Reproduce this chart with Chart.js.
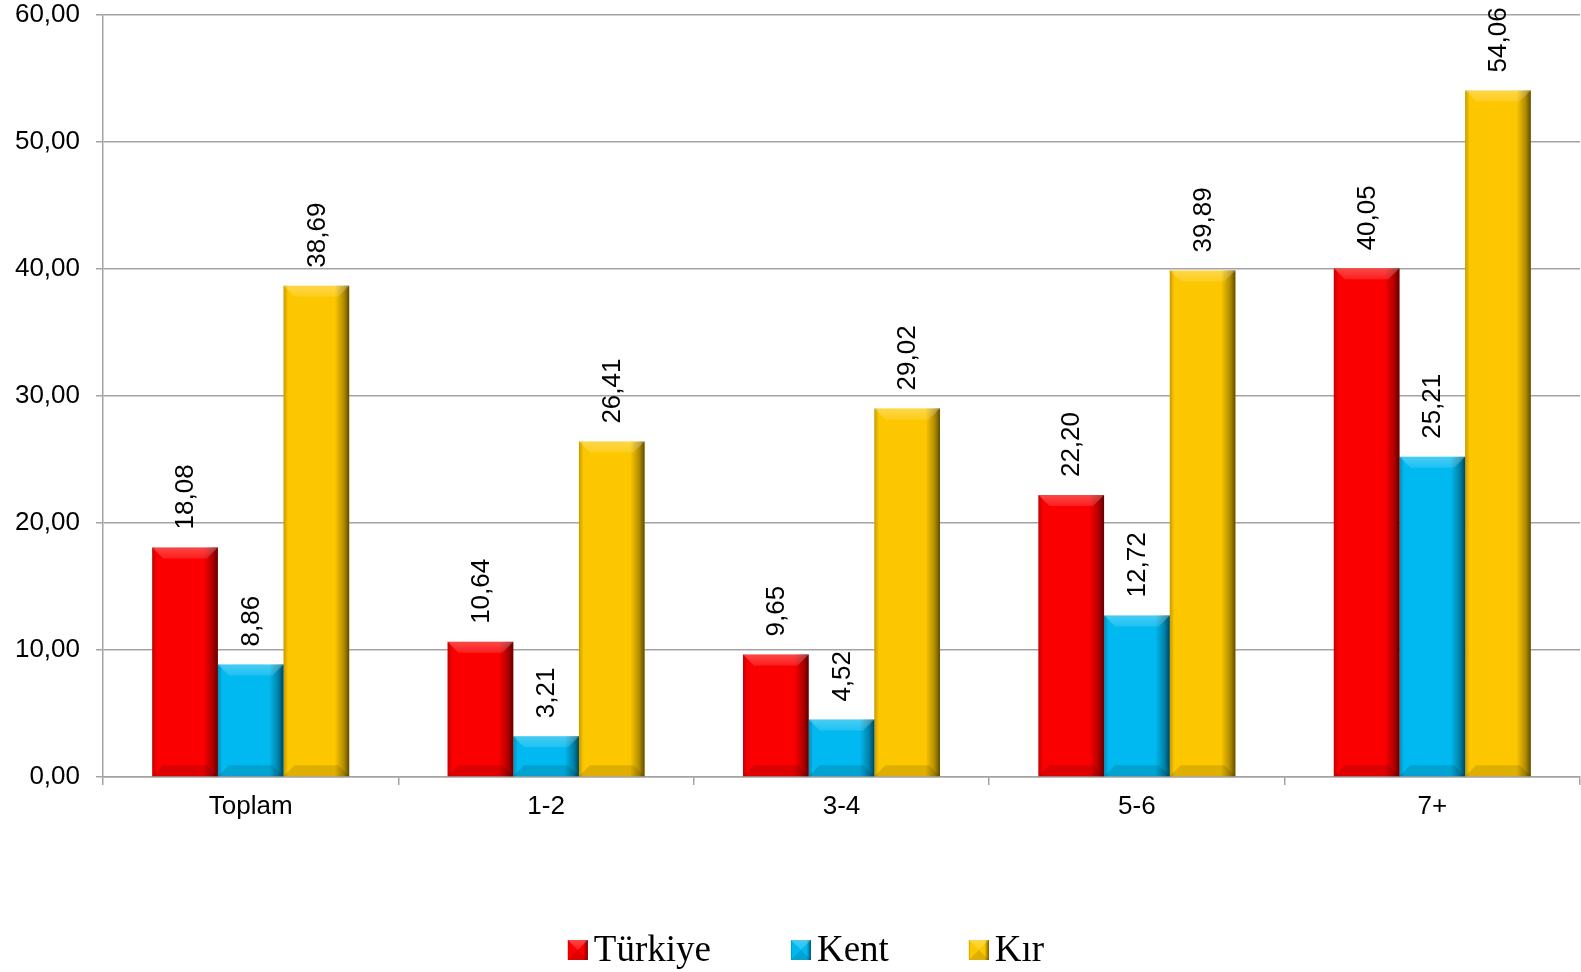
<!DOCTYPE html>
<html>
<head>
<meta charset="utf-8">
<script src="https://cdn.jsdelivr.net/npm/chart.js@4/dist/chart.umd.min.js"></script>
<style>
  body { margin: 0; background: #fff; }
  canvas { display: block; }
</style>
</head>
<body>
<canvas id="chart" width="1581" height="972"></canvas>
<script>
const categories = ["Toplam", "1-2", "3-4", "5-6", "7+"];
const turkiye = [18.08, 10.64, 9.65, 22.20, 40.05];
const kent = [8.86, 3.21, 4.52, 12.72, 25.21];
const kir = [38.69, 26.41, 29.02, 39.89, 54.06];
const seriesNames = ["Türkiye", "Kent", "Kır"];

const COLOR = {
  red: "#fb0000",
  blue: "#00b9f0",
  yellow: "#fdc700",
  grid: "#a3a3a3",
};
const SANS = "'Liberation Sans', Arial, sans-serif";
const SERIF = "'Liberation Serif', 'Times New Roman', serif";

const fmt = (v) => v.toFixed(2).replace(".", ",");

// paints the bevel look on top of a flat rect
function bevel(ctx, left, top, w, h) {
  const right = left + w;
  const bottom = top + h;
  const b = Math.min(11, h / 2, w / 2);

  const g = ctx.createLinearGradient(left, 0, right, 0);
  g.addColorStop(0, "rgba(0,0,0,0.22)");
  g.addColorStop(0.07, "rgba(0,0,0,0)");
  g.addColorStop(0.78, "rgba(0,0,0,0)");
  g.addColorStop(0.92, "rgba(0,0,0,0.3)");
  g.addColorStop(1, "rgba(0,0,0,0.62)");
  ctx.fillStyle = g;
  ctx.fillRect(left, top, w, h);

  const tg = ctx.createLinearGradient(0, top, 0, top + b);
  tg.addColorStop(0, "rgba(255,255,255,0.28)");
  tg.addColorStop(1, "rgba(255,255,255,0.12)");
  ctx.fillStyle = tg;
  ctx.beginPath();
  ctx.moveTo(left, top);
  ctx.lineTo(right, top);
  ctx.lineTo(right - b, top + b);
  ctx.lineTo(left + b, top + b);
  ctx.closePath();
  ctx.fill();

  ctx.fillStyle = "rgba(0,0,0,0.12)";
  ctx.beginPath();
  ctx.moveTo(left, bottom);
  ctx.lineTo(right, bottom);
  ctx.lineTo(right - b, bottom - b);
  ctx.lineTo(left + b, bottom - b);
  ctx.closePath();
  ctx.fill();
}

const barLook = {
  id: "barLook",
  afterDatasetsDraw(chart) {
    const ctx = chart.ctx;
    ctx.save();
    chart.data.datasets.forEach((ds, i) => {
      const meta = chart.getDatasetMeta(i);
      meta.data.forEach((bar, j) => {
        const left = bar.x - bar.width / 2;
        const top = Math.min(bar.y, bar.base);
        const h = Math.abs(bar.base - bar.y);
        bevel(ctx, left, top, bar.width, h);

        // rotated value label above the bar
        ctx.save();
        ctx.translate(bar.x, top - 18);
        ctx.rotate(-Math.PI / 2);
        ctx.fillStyle = "#000";
        ctx.font = "26px " + SANS;
        ctx.textAlign = "left";
        ctx.textBaseline = "middle";
        ctx.fillText(fmt(ds.data[j]), 0, 1);
        ctx.restore();
      });
    });
    ctx.restore();
  },
};

const bottomLegend = {
  id: "bottomLegend",
  afterDraw(chart) {
    const ctx = chart.ctx;
    const box = 20;
    const gap = 6;
    const spacing = 80;
    const y = 950;
    ctx.save();
    ctx.font = "37px " + SERIF;
    const items = chart.data.datasets.map((ds) => ({
      label: ds.label,
      color: ds.backgroundColor,
      w: box + gap + ctx.measureText(ds.label).width,
    }));
    const total =
      items.reduce((s, it) => s + it.w, 0) + spacing * (items.length - 1);
    let x = 806 - total / 2;
    items.forEach((it) => {
      ctx.fillStyle = it.color;
      ctx.fillRect(x, y - box / 2, box, box);
      bevel(ctx, x, y - box / 2, box, box);
      ctx.fillStyle = "#000";
      ctx.textAlign = "left";
      ctx.textBaseline = "alphabetic";
      ctx.fillText(it.label, x + box + gap, y + 11);
      x += it.w + spacing;
    });
    ctx.restore();
  },
};

const makeSet = (label, data, color) => ({
  label,
  data,
  backgroundColor: color,
  borderWidth: 0,
  categoryPercentage: 0.667,
  barPercentage: 1,
});

new Chart(document.getElementById("chart"), {
  type: "bar",
  data: {
    labels: categories,
    datasets: [
      makeSet(seriesNames[0], turkiye, COLOR.red),
      makeSet(seriesNames[1], kent, COLOR.blue),
      makeSet(seriesNames[2], kir, COLOR.yellow),
    ],
  },
  options: {
    responsive: false,
    animation: false,
    layout: {
      padding: { top: 15, right: 1, left: 0, bottom: 135 },
    },
    scales: {
      y: {
        min: 0,
        max: 60,
        afterFit: (scale) => {
          scale.width = 103;
          scale.paddingTop = 0;
          scale.paddingBottom = 0;
        },
        ticks: {
          stepSize: 10,
          padding: 16,
          color: "#000",
          font: { family: SANS, size: 26 },
          callback: (v) => fmt(v),
        },
        grid: {
          color: COLOR.grid,
          lineWidth: 1.5,
          tickLength: 7,
        },
        border: { color: COLOR.grid, width: 1.5 },
      },
      x: {
        afterFit: (scale) => {
          scale.height = 60;
        },
        ticks: {
          padding: 6,
          color: "#000",
          font: { family: SANS, size: 26 },
        },
        grid: {
          offset: true,
          drawOnChartArea: false,
          color: COLOR.grid,
          lineWidth: 1.5,
          tickLength: 8,
        },
        border: { color: COLOR.grid, width: 1.5 },
      },
    },
    plugins: {
      legend: { display: false },
      tooltip: { enabled: false },
    },
  },
  plugins: [barLook, bottomLegend],
});
</script>
</body>
</html>
